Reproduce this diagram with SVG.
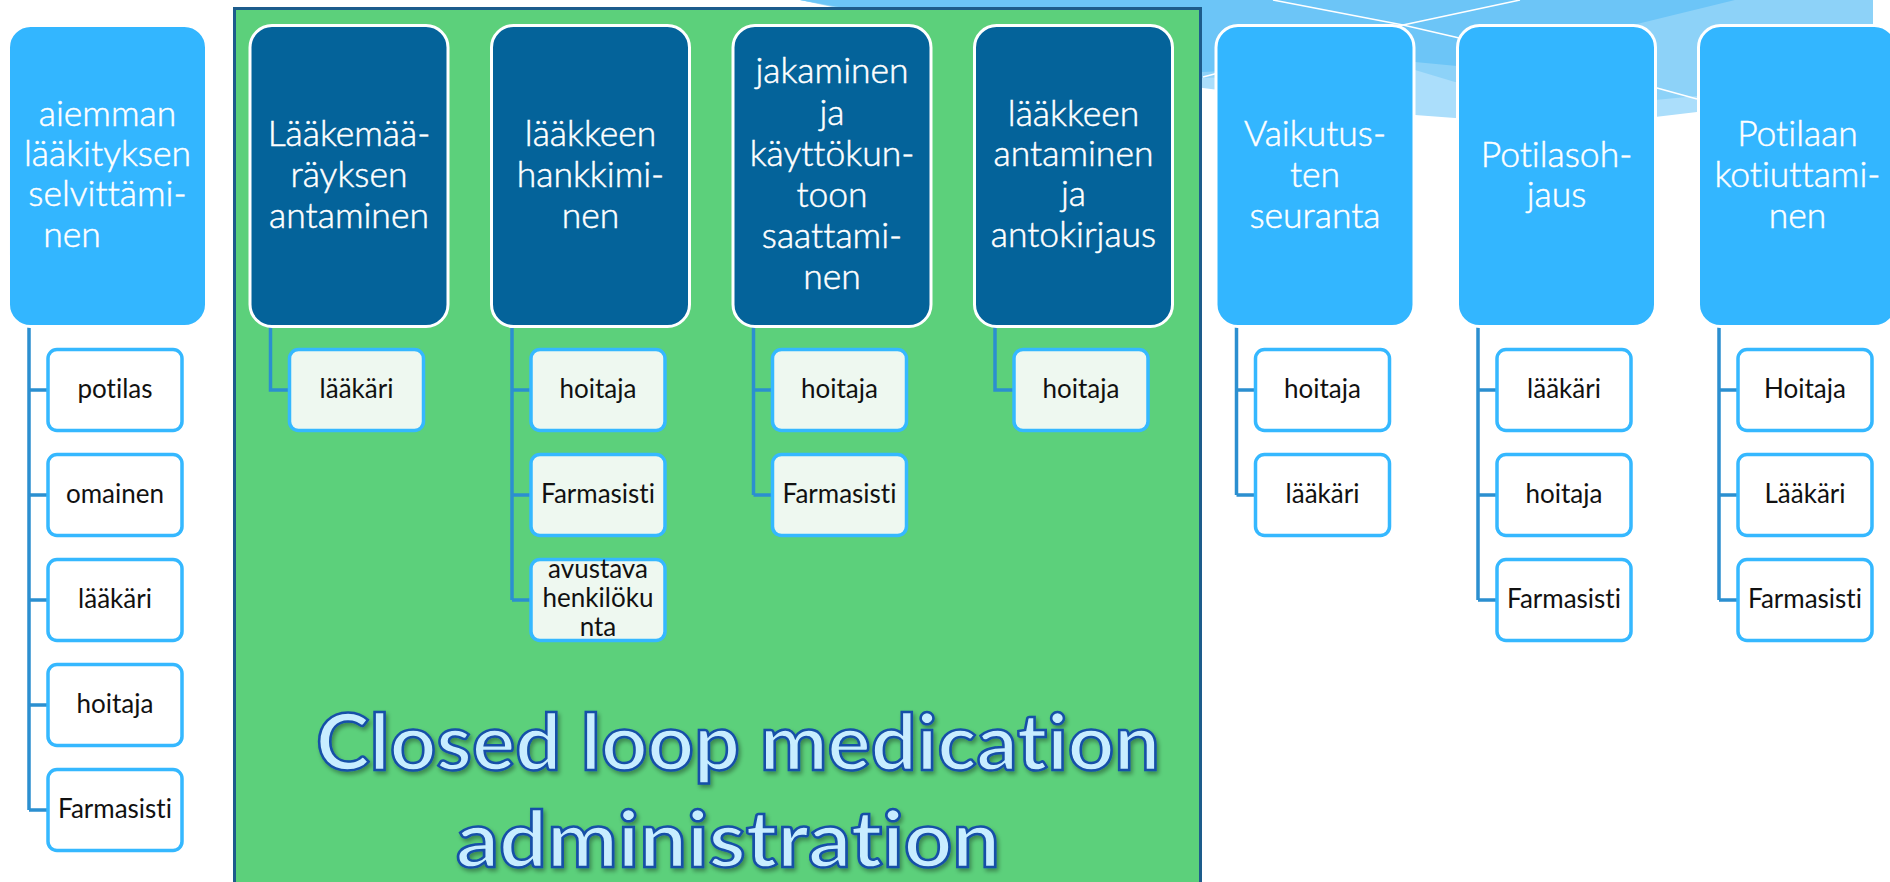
<svg xmlns="http://www.w3.org/2000/svg" width="1890" height="882" viewBox="0 0 1890 882">
<defs>
<style>
text{font-variant-ligatures:none}
.light{fill:#33b6ff;stroke:#ffffff;stroke-width:3}
.dark{fill:#04639a;stroke:#ffffff;stroke-width:3}
.ht{font-family:Lato,"Open Sans","Liberation Sans",sans-serif;font-weight:300;font-size:35.5px;fill:#ffffff;stroke:#ffffff;stroke-width:0.5;text-anchor:middle}
.sub{fill:#ffffff;stroke:#35b8ff;stroke-width:3.5}
.subg{fill:#eef8f0;stroke:#35b8ff;stroke-width:3.5}
.st{font-family:Lato,"Open Sans","Liberation Sans",sans-serif;font-size:26px;fill:#111111;text-anchor:middle}
.con{fill:none;stroke:#2b8fd0;stroke-width:3.5}
.title{font-family:Lato,"Liberation Sans",sans-serif;font-weight:bold;font-size:78px;fill:#c8edff;stroke:#1550a8;stroke-width:2.5}
</style>
<filter id="sh" x="-5%" y="-20%" width="110%" height="140%">
<feDropShadow dx="2" dy="3" stdDeviation="2" flood-color="#000000" flood-opacity="0.35"/>
</filter>
</defs>
<rect x="0" y="0" width="1890" height="882" fill="#ffffff"/>
<g id="background-swoosh">
<polygon points="800,0 1873,0 1873,24 1760,100 1697,112 1655,117 1455,118 1415,115 1203,88" fill="#abdefb"/>
<polygon points="800,0 1873,0 1873,24 1760,85 1697,96 1655,100 1455,82 1415,70 1203,78" fill="#8dd2f8"/>
<polygon points="800,0 1735,0 1637,24 1457,66 1415,62 1203,72" fill="#6cc5f7"/>
<polyline points="1520,0 1403,25 1203,77" fill="none" stroke="#ffffff" stroke-width="1.5"/>
<polyline points="1273,0 1403,25 1455,37 1657,88 1697,99" fill="none" stroke="#ffffff" stroke-width="1.5"/>
</g>
<g id="closed-loop-panel">
<rect x="234.5" y="8.5" width="966" height="900" fill="#5cd07b" stroke="#1d5c8c" stroke-width="3"/>
<g filter="url(#sh)">
<text class="title" x="316" y="770" textLength="844" lengthAdjust="spacingAndGlyphs">Closed loop medication</text>
<text class="title" x="456" y="867" textLength="544" lengthAdjust="spacingAndGlyphs">administration</text>
</g>
</g>
<g id="connectors">
<path class="con" d="M29 327 V810 M29 390 H48 M29 495 H48 M29 600 H48 M29 705 H48 M29 810 H48"/>
<path class="con" d="M270.5 327 V390 H289.5"/>
<path class="con" d="M512 327 V600 M512 390 H531 M512 495 H531 M512 600 H531"/>
<path class="con" d="M753.5 327 V495 M753.5 390 H772.5 M753.5 495 H772.5"/>
<path class="con" d="M995 327 V390 H1014"/>
<path class="con" d="M1236.5 327 V495 M1236.5 390 H1255.5 M1236.5 495 H1255.5"/>
<path class="con" d="M1478 327 V600 M1478 390 H1497 M1478 495 H1497 M1478 600 H1497"/>
<path class="con" d="M1719 327 V600 M1719 390 H1738 M1719 495 H1738 M1719 600 H1738"/>
</g>
<g id="node-aiemman">
<rect class="light" x="8.5" y="25.5" width="198" height="301" rx="22"/>
<text class="ht" x="107.5" y="126">aiemman</text>
<text class="ht" x="107.5" y="166">lääkityksen</text>
<text class="ht" x="107.5" y="206">selvittämi-</text>
<text class="ht" x="72" y="247">nen</text>
</g>
<g id="node-laakemaarays">
<rect class="dark" x="250" y="25.5" width="198" height="301" rx="22"/>
<text class="ht" x="349" y="146">Lääkemää-</text>
<text class="ht" x="349" y="187">räyksen</text>
<text class="ht" x="349" y="228">antaminen</text>
</g>
<g id="node-hankkiminen">
<rect class="dark" x="491.5" y="25.5" width="198" height="301" rx="22"/>
<text class="ht" x="590.5" y="146">lääkkeen</text>
<text class="ht" x="590.5" y="187">hankkimi-</text>
<text class="ht" x="590.5" y="228">nen</text>
</g>
<g id="node-jakaminen">
<rect class="dark" x="733" y="25.5" width="198" height="301" rx="22"/>
<text class="ht" x="832" y="83">jakaminen</text>
<text class="ht" x="832" y="125">ja</text>
<text class="ht" x="832" y="166">käyttökun-</text>
<text class="ht" x="832" y="207">toon</text>
<text class="ht" x="832" y="248">saattami-</text>
<text class="ht" x="832" y="289">nen</text>
</g>
<g id="node-antaminen">
<rect class="dark" x="974.5" y="25.5" width="198" height="301" rx="22"/>
<text class="ht" x="1073.5" y="126">lääkkeen</text>
<text class="ht" x="1073.5" y="166">antaminen</text>
<text class="ht" x="1073.5" y="206">ja</text>
<text class="ht" x="1073.5" y="247">antokirjaus</text>
</g>
<g id="node-vaikutusten">
<rect class="light" x="1216" y="25.5" width="198" height="301" rx="22"/>
<text class="ht" x="1315" y="146">Vaikutus-</text>
<text class="ht" x="1315" y="187">ten</text>
<text class="ht" x="1315" y="228">seuranta</text>
</g>
<g id="node-potilasohjaus">
<rect class="light" x="1457.5" y="25.5" width="198" height="301" rx="22"/>
<text class="ht" x="1556.5" y="167">Potilasoh-</text>
<text class="ht" x="1556.5" y="207">jaus</text>
</g>
<g id="node-kotiuttaminen">
<rect class="light" x="1698.5" y="25.5" width="198" height="301" rx="22"/>
<text class="ht" x="1797.5" y="146">Potilaan</text>
<text class="ht" x="1797.5" y="187">kotiuttami-</text>
<text class="ht" x="1797.5" y="228">nen</text>
</g>
<g id="sub-aiemman-potilas"><rect class="sub" x="48" y="349.5" width="134" height="81" rx="9"/><text class="st" x="115" y="398">potilas</text></g>
<g id="sub-aiemman-omainen"><rect class="sub" x="48" y="454.5" width="134" height="81" rx="9"/><text class="st" x="115" y="503">omainen</text></g>
<g id="sub-aiemman-laakari"><rect class="sub" x="48" y="559.5" width="134" height="81" rx="9"/><text class="st" x="115" y="608">lääkäri</text></g>
<g id="sub-aiemman-hoitaja"><rect class="sub" x="48" y="664.5" width="134" height="81" rx="9"/><text class="st" x="115" y="713">hoitaja</text></g>
<g id="sub-aiemman-farmasisti"><rect class="sub" x="48" y="769.5" width="134" height="81" rx="9"/><text class="st" x="115" y="818">Farmasisti</text></g>
<g id="sub-laakemaarays-laakari"><rect class="subg" x="289.5" y="349.5" width="134" height="81" rx="9"/><text class="st" x="356.5" y="398">lääkäri</text></g>
<g id="sub-hankkiminen-hoitaja"><rect class="subg" x="531" y="349.5" width="134" height="81" rx="9"/><text class="st" x="598" y="398">hoitaja</text></g>
<g id="sub-hankkiminen-farmasisti"><rect class="subg" x="531" y="454.5" width="134" height="81" rx="9"/><text class="st" x="598" y="503">Farmasisti</text></g>
<g id="sub-hankkiminen-avustava"><rect class="subg" x="531" y="559.5" width="134" height="81" rx="9"/><text class="st" x="598" y="578">avustava</text><text class="st" x="598" y="607">henkilöku</text><text class="st" x="598" y="636">nta</text></g>
<g id="sub-jakaminen-hoitaja"><rect class="subg" x="772.5" y="349.5" width="134" height="81" rx="9"/><text class="st" x="839.5" y="398">hoitaja</text></g>
<g id="sub-jakaminen-farmasisti"><rect class="subg" x="772.5" y="454.5" width="134" height="81" rx="9"/><text class="st" x="839.5" y="503">Farmasisti</text></g>
<g id="sub-antaminen-hoitaja"><rect class="subg" x="1014" y="349.5" width="134" height="81" rx="9"/><text class="st" x="1081" y="398">hoitaja</text></g>
<g id="sub-vaikutusten-hoitaja"><rect class="sub" x="1255.5" y="349.5" width="134" height="81" rx="9"/><text class="st" x="1322.5" y="398">hoitaja</text></g>
<g id="sub-vaikutusten-laakari"><rect class="sub" x="1255.5" y="454.5" width="134" height="81" rx="9"/><text class="st" x="1322.5" y="503">lääkäri</text></g>
<g id="sub-potilasohjaus-laakari"><rect class="sub" x="1497" y="349.5" width="134" height="81" rx="9"/><text class="st" x="1564" y="398">lääkäri</text></g>
<g id="sub-potilasohjaus-hoitaja"><rect class="sub" x="1497" y="454.5" width="134" height="81" rx="9"/><text class="st" x="1564" y="503">hoitaja</text></g>
<g id="sub-potilasohjaus-farmasisti"><rect class="sub" x="1497" y="559.5" width="134" height="81" rx="9"/><text class="st" x="1564" y="608">Farmasisti</text></g>
<g id="sub-kotiuttaminen-hoitaja"><rect class="sub" x="1738" y="349.5" width="134" height="81" rx="9"/><text class="st" x="1805" y="398">Hoitaja</text></g>
<g id="sub-kotiuttaminen-laakari"><rect class="sub" x="1738" y="454.5" width="134" height="81" rx="9"/><text class="st" x="1805" y="503">Lääkäri</text></g>
<g id="sub-kotiuttaminen-farmasisti"><rect class="sub" x="1738" y="559.5" width="134" height="81" rx="9"/><text class="st" x="1805" y="608">Farmasisti</text></g>
</svg>
